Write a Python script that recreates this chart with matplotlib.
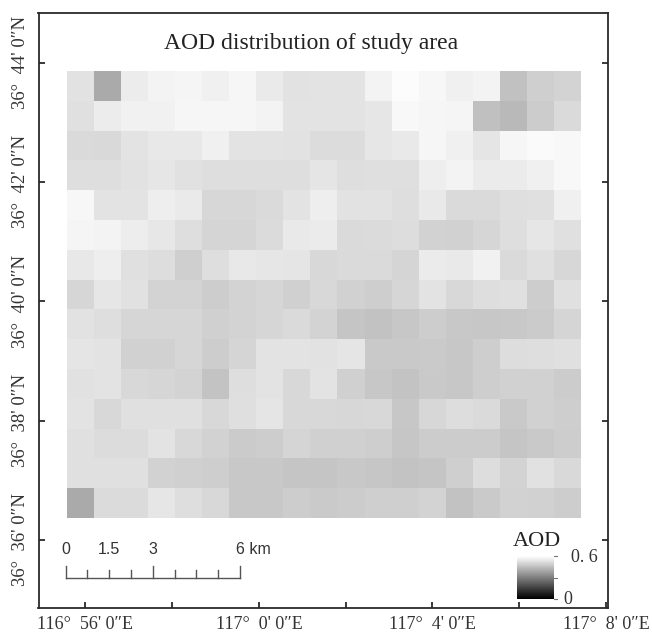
import numpy as np
import matplotlib
matplotlib.use("Agg")
import matplotlib.pyplot as plt

# Pixel brightness of each AOD cell (0-255 maps to AOD 0-0.6), north to south
row01 = [226,170,236,244,245,240,246,234,226,228,228,243,252,247,240,243,193,207,212]
row02 = [224,236,241,241,246,246,246,243,228,228,227,230,248,246,245,192,185,204,218]
row03 = [218,217,228,232,232,240,227,227,226,220,220,230,233,246,240,229,246,250,248]
row04 = [222,222,226,230,225,222,222,222,222,229,222,223,223,238,243,235,235,240,248]
row05 = [247,228,228,238,234,215,215,218,228,238,226,226,222,233,218,218,223,224,240]
row06 = [245,243,237,231,222,213,213,219,233,235,218,219,221,210,209,214,222,230,224]
row07 = [232,238,224,221,207,222,232,230,229,216,218,218,213,235,233,241,218,224,215]
row08 = [214,230,225,212,212,205,212,214,208,216,209,206,214,228,216,222,224,205,224]
row09 = [226,222,214,214,214,208,212,214,218,212,197,194,199,205,200,199,200,203,213]
row10 = [229,228,209,209,214,205,213,227,227,226,229,201,201,202,199,206,221,222,224]
row11 = [225,227,216,214,211,196,222,228,216,228,208,199,196,201,199,206,209,209,204]
row12 = [228,216,224,224,224,216,223,229,216,216,215,216,199,215,221,218,201,209,206]
row13 = [224,220,220,228,216,210,203,205,213,208,208,206,198,204,204,204,197,201,205]
row14 = [224,224,224,210,208,206,200,200,197,197,200,198,196,197,207,221,212,225,217]
row15 = [170,219,219,230,222,216,200,200,205,202,204,207,207,211,194,202,210,209,205]
rows = [row01,row02,row03,row04,row05,row06,row07,row08,row09,row10,row11,row12,row13,row14,row15]

# Minutes east of 117 deg 0', minutes north of 36 deg 0'
x_ticks = [-4,-2,0,2,4,6,8]
x_labels = ['116°  56\' 0″E','','117°  0\' 0″E','','117°  4\' 0″E','','117°  8\' 0″E']
y_ticks = [36,38,40,42,44]
y_labels = ['36°  36\' 0″N','36°  38\' 0″N','36°  40\' 0″N','36°  42\' 0″N','36°  44\' 0″N']
scale_km = [0,0.75,1.5,2.25,3,3.75,4.5,5.25,6]
scale_labels = ['0','1.5','3','6 km']
scale_label_km = [0,1.5,3,6]

W, H = 652, 635
fig = plt.figure(figsize=(W/100, H/100), dpi=100, facecolor='white')
L, R, T, B = 38.5, 608, 13, 607.5
ax = fig.add_axes([L/W, 1-B/H, (R-L)/W, (B-T)/H])
px = (606-85.5)/12
py = (540-62.5)/8
ax.set_xlim(-4-(85.5-L)/px, 8+(R-606)/px)
ax.set_ylim(36-(B-540)/py, 44+(62.5-T)/py)

extent = [(67-259)/px, (580-259)/px, 36+(540-518.5)/py, 36+(540-72)/py]
ax.imshow(np.array(rows), cmap='gray', vmin=0, vmax=255, extent=extent,
          interpolation='nearest', aspect='auto', zorder=1)

ink = '#2a2a2a'
for s in ['left','bottom','right','top']:
    ax.spines[s].set_linewidth(1.3)
    ax.spines[s].set_color(ink)

serif = 'Liberation Serif'
ax.set_xticks(x_ticks)
ax.set_xticklabels(x_labels, family=serif, fontsize=13, color='#333333')
ax.set_yticks(y_ticks)
ax.set_yticklabels(y_labels, family=serif, fontsize=13.5, color='#333333',
                   rotation=90, va='center')
ax.tick_params(axis='both', direction='in', length=4.5, width=1.3, color=ink)
ax.tick_params(axis='x', pad=6)
ax.tick_params(axis='y', pad=7, right=True)

fig.text(311/W, 1-44/H, 'AOD distribution of study area', family=serif, fontsize=17,
         color='#222222', ha='center', va='center')

# Scale bar
km_px = (240-65.5)/6
def sx(k): return (65.5 + k*km_px)/W
def fy(y): return 1-y/H
bar_color = '#555555'
fig.add_artist(plt.Line2D([sx(0), sx(6)], [fy(578), fy(578)], color=bar_color, lw=1))
for k in scale_km:
    top = 566 if k in (0,3,6) else 570
    fig.add_artist(plt.Line2D([sx(k), sx(k)], [fy(578), fy(top)], color=bar_color, lw=1))
for k, s in zip(scale_label_km, scale_labels):
    x = sx(k) if k != 6 else sx(6) - 4/W
    fig.text(x, fy(550), s, family='Liberation Sans', fontsize=11.5, color='#333333',
             ha='center' if k != 6 else 'left', va='center')

# Colour ramp legend
cax = fig.add_axes([517/W, 1-599/H, 37/W, 43/H])
ramp = np.linspace(255, 0, 64).reshape(-1, 1)
cax.imshow(ramp, cmap='gray', vmin=0, vmax=255, aspect='auto')
cax.set_axis_off()
for yy in (556, 577.5, 599):
    fig.add_artist(plt.Line2D([554/W, 557/W], [fy(yy), fy(yy)], color='#777777', lw=0.8))
fig.text(537/W, fy(541), 'AOD', family=serif, fontsize=16, color='#222222', ha='center', va='center')
fig.text(584/W, fy(557), '0. 6', family=serif, fontsize=13, color='#333333', ha='center', va='center')
fig.text(568/W, fy(599), '0', family=serif, fontsize=13, color='#333333', ha='center', va='center')

fig.savefig('out.png', dpi=100, facecolor='white')
